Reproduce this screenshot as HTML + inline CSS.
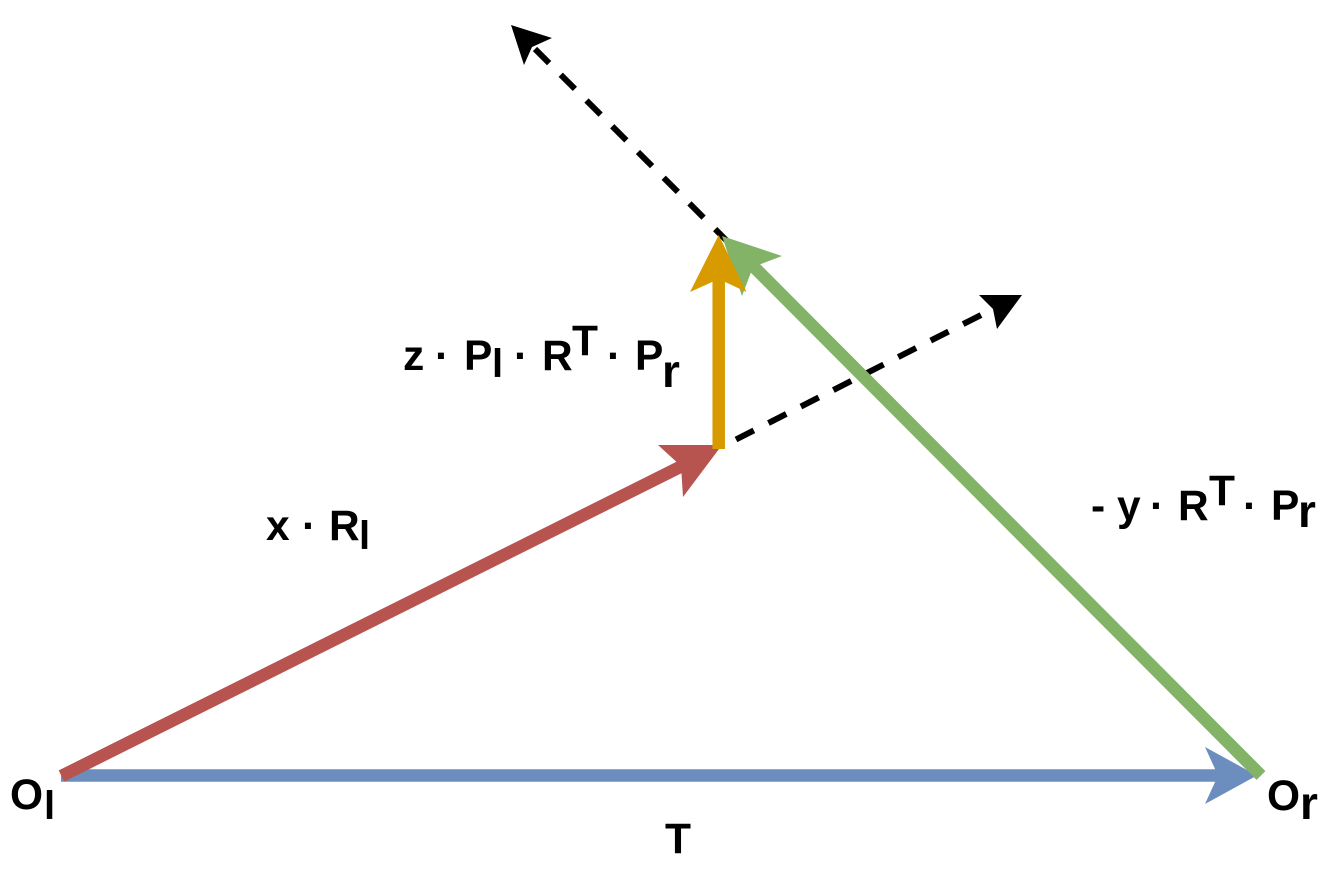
<!DOCTYPE html>
<html lang="en">
<head>
<meta charset="utf-8">
<title>Triangulation vector diagram</title>
<style>
html,body{margin:0;padding:0;background:#fff;}
svg{display:block;}
text{font-family:"Liberation Sans",sans-serif;font-weight:bold;font-size:42.5px;fill:#000;}
text.sub-l{font-size:40px;}
text.sub-r{font-size:46px;}
</style>
</head>
<body>
<svg width="1323" height="873" viewBox="0 0 1323 873" xmlns="http://www.w3.org/2000/svg">
  <rect width="1323" height="873" fill="#fff"/>

  <g>
    <line x1="535" y1="49" x2="727" y2="241" stroke="#000" stroke-width="6" stroke-dasharray="20 16.4"/>
    <polygon points="511,25 552,38 532,47 524,65" fill="#000"/>
  </g>
  <g>
    <line x1="736" y1="439.5" x2="985" y2="313" stroke="#000" stroke-width="6" stroke-dasharray="20 16.4"/>
    <polygon points="1022,295 979,295 993,309 997,329" fill="#000"/>
  </g>

  <g>
    <line x1="61" y1="775.5" x2="1225" y2="775.5" stroke="#6c8ebf" stroke-width="12.5"/>
    <polygon points="1257,775.5 1205,747 1218,775.5 1205,804" fill="#6c8ebf"/>
  </g>
  <g>
    <line x1="61.5" y1="776" x2="690" y2="462" stroke="#b85450" stroke-width="12.5"/>
    <polygon points="722,445 658,445 681,466 683,497" fill="#b85450"/>
  </g>
  <g>
    <line x1="1261" y1="775.5" x2="750" y2="263" stroke="#82b366" stroke-width="12.5"/>
    <polygon points="722,236 782,256 753,267 742,296" fill="#82b366"/>
  </g>
  <g>
    <line x1="718.7" y1="449" x2="718.7" y2="275" stroke="#d79b00" stroke-width="12.5"/>
    <polygon points="718.7,235 690,292 718.7,279 746.5,292" fill="#d79b00"/>
  </g>

  <g>
    <text x="10" y="809">O</text><text class="sub-l" x="44" y="819">l</text>
  </g>
  <g>
    <text x="1267" y="810">O</text><text class="sub-r" x="1300" y="819">r</text>
  </g>
  <text x="665" y="853">T</text>
  <g>
    <text x="266" y="540">x</text><text x="302" y="540">·</text><text x="329" y="540">R</text><text class="sub-l" x="359" y="549">l</text>
  </g>
  <g>
    <text x="403" y="370">z</text><text x="435" y="370">·</text><text x="464" y="370">P</text><text class="sub-l" x="492" y="377">l</text><text x="514" y="370">·</text><text x="542" y="370">R</text><text x="572" y="355">T</text><text x="607" y="370">·</text><text x="635" y="370">P</text><text class="sub-r" x="662" y="387">r</text>
  </g>
  <g>
    <text x="1091" y="520">-</text><text x="1117" y="520">y</text><text x="1150" y="520">·</text><text x="1178" y="520">R</text><text x="1209" y="505">T</text><text x="1243" y="520">·</text><text x="1271" y="520">P</text><text class="sub-r" x="1298" y="527">r</text>
  </g>
</svg>
</body>
</html>
